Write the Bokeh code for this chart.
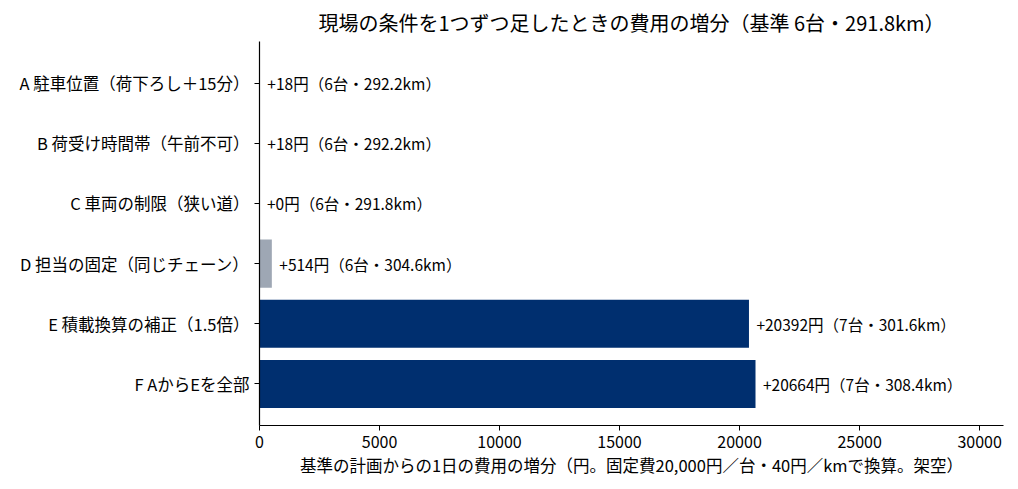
from bokeh.core.properties import value
from bokeh.embed import file_html
from bokeh.models import ColumnDataSource, FactorRange, Range1d, FixedTicker
from bokeh.plotting import figure
from bokeh.resources import INLINE

FONT = "Noto Sans CJK JP"

conditions = [
    "A 駐車位置（荷下ろし＋15分）",
    "B 荷受け時間帯（午前不可）",
    "C 車両の制限（狭い道）",
    "D 担当の固定（同じチェーン）",
    "E 積載換算の補正（1.5倍）",
    "F AからEを全部",
]
cost_increase = [18, 18, 0, 514, 20392, 20664]
trucks = [6, 6, 6, 6, 7, 7]
distance_km = [292.2, 292.2, 291.8, 304.6, 301.6, 308.4]
bar_colors = ["#9ea7b4", "#9ea7b4", "#9ea7b4", "#9ea7b4", "#002f6f", "#002f6f"]

xmax = max(cost_increase) * 1.5
offset = max(cost_increase) * 0.015

labels = [f"+{c}円（{t}台・{d:.1f}km）" for c, t, d in zip(cost_increase, trucks, distance_km)]

src = ColumnDataSource(dict(
    y=conditions,
    x=cost_increase,
    tx=[c + offset for c in cost_increase],
    label=labels,
    color=bar_colors,
))

p = figure(
    width=1010, height=481,
    y_range=FactorRange(factors=conditions[::-1], range_padding=0.38 / 6, range_padding_units="percent"),
    x_range=Range1d(0, xmax),
    output_backend="svg", toolbar_location=None,
    min_border_left=259, min_border_right=7, min_border_top=38, min_border_bottom=56,
    title="現場の条件を1つずつ足したときの費用の増分（基準 6台・291.8km）",
)
p.title.align = "center"
p.title.text_font = FONT
p.title.text_font_size = "20px"
p.title.text_font_style = "normal"
p.title.text_color = "#000000"
p.title.offset = -2

p.hbar(y="y", right="x", left=0, height=0.8, color="color", line_color=None, source=src)
p.text(x="tx", y="y", text="label", source=src, text_baseline="middle", text_align="left",
       text_font=value(FONT), text_font_size="15.5px", text_color="#000000")

p.outline_line_color = None
p.grid.grid_line_color = None
p.background_fill_color = "white"

p.xaxis.ticker = FixedTicker(ticks=[0, 5000, 10000, 15000, 20000, 25000, 30000])
p.xaxis.axis_label = "基準の計画からの1日の費用の増分（円。固定費20,000円／台・40円／kmで換算。架空）"

for ax in (p.xaxis, p.yaxis):
    ax.axis_line_color = "black"
    ax.axis_line_width = 1.2
    ax.major_tick_line_color = "black"
    ax.major_tick_out = 5
    ax.major_tick_in = 0
    ax.minor_tick_line_color = None
    ax.major_label_text_font = FONT
    ax.major_label_text_font_size = "16px"
    ax.major_label_text_color = "#000000"
    ax.axis_label_text_font = FONT
    ax.axis_label_text_font_size = "16.5px"
    ax.axis_label_text_font_style = "normal"
    ax.axis_label_text_color = "#000000"
p.yaxis.major_label_text_font_size = "16.5px"
p.xaxis.axis_label_standoff = 2
p.xaxis.major_label_standoff = 5

open("out.html", "w").write(file_html(p, INLINE))
